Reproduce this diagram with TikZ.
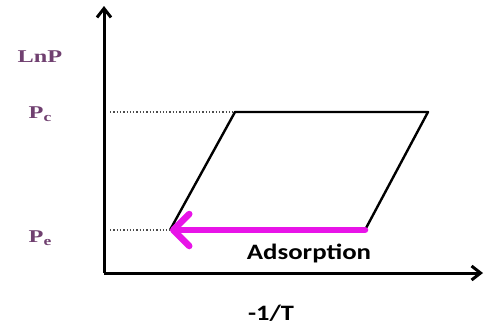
\documentclass[tikz,border=0pt]{standalone}
\usepackage{fontspec}
\usetikzlibrary{arrows.meta}
\newfontfamily\serifbold{Liberation Serif}
\newfontfamily\sansbold{Carlito}
\definecolor{labelpurple}{RGB}{112,64,112}
\definecolor{arrowmagenta}{RGB}{232,20,232}
\newcommand{\lowsub}[1]{\raisebox{-0.35ex}{\fontsize{13}{14}\selectfont #1}}

\begin{document}
\begin{tikzpicture}[x=1pt,y=-1pt,>={Straight Barb[length=9pt,width=14pt]}]
\useasboundingbox (0,0) rectangle (485,327);
% axes
\coordinate (origin) at (104,273);
\coordinate (ytop) at (104,6);
\coordinate (xend) at (483,273);
\draw[line width=3pt,->] (origin) -- (ytop);
\draw[line width=3pt,->] (origin) -- (xend);
% loop corners
\coordinate (tl) at (235,112);
\coordinate (tr) at (428,112);
\coordinate (br) at (365,230);
\coordinate (bl) at (170,230);
\coordinate (pcstart) at (110,112);
\coordinate (pestart) at (110,230);
\draw[line width=2.4pt,line join=round] (bl) -- (tl) -- (tr) -- (br);
\draw[line width=1.3pt,dotted,black!70] (pcstart) -- (tl);
\draw[line width=1.3pt,dotted,black!70] (pestart) -- (bl);
\draw[arrowmagenta,line width=6.5pt,line cap=round,{Straight Barb[length=16pt,width=32pt,line cap=round,line join=round]}-] (bl) -- (br);
% labels
\foreach \y/\t/\n in {57/LnP/lnp,114/{P\lowsub{c}}/pc,238/{P\lowsub{e}}/pe}{
  \node[labelpurple,xscale=1.35,font=\serifbold\fontsize{18}{20}\selectfont\bfseries] (\n) at (40,\y) {\t};
}
\node[xscale=1.22,font=\sansbold\fontsize{22}{24}\selectfont\bfseries] (ads) at (309,253) {Adsorption};
\node[xscale=1.2,font=\sansbold\fontsize{22}{24}\selectfont\bfseries] (invt) at (271,313) {-1/T};
\end{tikzpicture}
\end{document}
